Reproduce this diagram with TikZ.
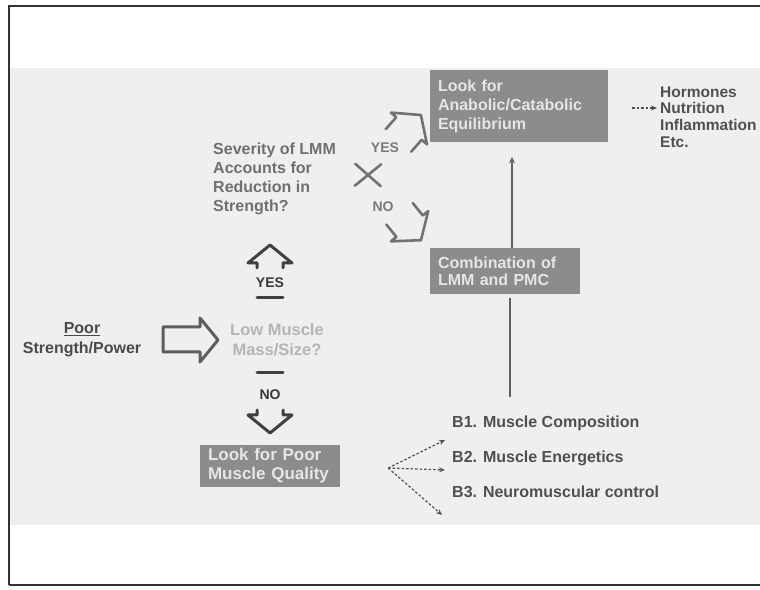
\documentclass[tikz,border=0pt]{standalone}
\usepackage{fontspec}
\setmainfont{Liberation Sans}
\usetikzlibrary{arrows.meta}
\definecolor{bandgray}{HTML}{EFEFEF}
\definecolor{framecol}{HTML}{333333}
\definecolor{boxgray}{HTML}{8C8C8C}
\definecolor{boxtext}{HTML}{E6E6E6}
\definecolor{sevcol}{HTML}{707070}
\definecolor{lowcol}{HTML}{B5B5B5}
\definecolor{poorcol}{HTML}{4A4A4A}
\definecolor{ynv}{HTML}{383838}
\definecolor{ynd}{HTML}{7A7A7A}
\definecolor{arrv}{HTML}{404040}
\definecolor{arrd}{HTML}{727272}
\definecolor{arrr}{HTML}{5E5E5E}
\definecolor{btextcol}{HTML}{505050}
\definecolor{vlinecol}{HTML}{606060}
\newcommand{\HollowHead}[7]{%
  \begin{scope}[shift={#1}, rotate=#2]
    \draw[#7] (0,-#4) -- (0,#4);
    \draw[#7] ({#3-18-#6},-#4) -- ({#3-18},-#4) -- ({#3-18},-#5) -- (#3,0) -- ({#3-18},#5) -- ({#3-18},#4) -- ({#3-18-#6},#4);
  \end{scope}}
\begin{document}
\begin{tikzpicture}[x=1pt,y=1pt,
  graybox/.style={fill=boxgray, draw=none, inner xsep=8pt, inner ysep=4pt, align=left, text=boxtext, font=\fontsize{16}{19}\selectfont\bfseries},
  sevtext/.style={inner sep=0pt, align=left, text=sevcol, font=\fontsize{16}{19}\selectfont\bfseries},
  lowtext/.style={inner sep=0pt, align=center, text=lowcol, font=\fontsize{16.5}{20}\selectfont\bfseries},
  poortext/.style={inner sep=0pt, align=center, text=poorcol, font=\fontsize{16}{20}\selectfont\bfseries},
  ynvert/.style={inner sep=0pt, text=ynv, font=\fontsize{14}{16}\selectfont\bfseries},
  yndiag/.style={inner sep=0pt, text=ynd, font=\fontsize{14}{16}\selectfont\bfseries},
  btext/.style={inner sep=0pt, anchor=west, text=btextcol, font=\fontsize{16}{19}\selectfont\bfseries},
  htext/.style={inner sep=0pt, anchor=west, align=left, text=btextcol, font=\fontsize{15.5}{16.7}\selectfont\bfseries},
  hollow/.style={draw=arrv, line width=3pt, line cap=round, line join=round},
  hollowd/.style={draw=arrd, line width=2.6pt, line cap=round, line join=round},
  dasharr/.style={draw=btextcol, line width=1.2pt, dash pattern=on 2.5pt off 2pt, -{Stealth[length=6pt,width=5pt]}},
  vline/.style={draw=vlinecol, line width=1.6pt}
]
\useasboundingbox (0,0) rectangle (760,589);
\fill[white] (0,0) rectangle (760,589);
\fill[bandgray] (10,64) rectangle (760,521);
\draw[framecol, line width=2.5pt] (9,4) -- (9,583) -- (760,583);
\draw[framecol, line width=2.5pt] (9,4) -- (760,4);

% boxes
\node[graybox, minimum width=178pt, minimum height=72pt, text width=162pt] (A) at (519,483) {Look for\\Anabolic/Catabolic\\Equilibrium};
\node[graybox, minimum width=150pt, minimum height=46pt, text width=134pt, font=\fontsize{16}{17}\selectfont\bfseries] (C) at (505,318) {Combination of\\LMM and PMC};
\node[graybox, minimum width=140pt, minimum height=42pt, text width=124pt, font=\fontsize{17}{19}\selectfont\bfseries] (Q) at (270,123) {Look for Poor\\Muscle Quality};

% texts
\node[htext] (H) at (660,472) {Hormones\\Nutrition\\Inflammation\\Etc.};
\node[sevtext, anchor=west] (S) at (213,410) {Severity of LMM\\Accounts for\\Reduction in\\Strength?};
\node[lowtext] (L) at (277,249) {Low Muscle\\Mass/Size?};
\node[poortext] (P) at (82,249) {\underline{Poor}\\Strength/Power};
\node[ynvert] (yes1) at (270,306) {YES};
\node[ynvert] (no1) at (270,194) {NO};
\node[yndiag] (yes2) at (385,441) {YES};
\node[yndiag] (no2) at (383,382) {NO};
\node[btext] (B1) at (452,166) {B1. Muscle Composition};
\node[btext] (B2) at (452,131) {B2. Muscle Energetics};
\node[btext] (B3) at (452,97) {B3. Neuromuscular control};

% hollow block arrows
\draw[draw=arrr, line width=3pt, line join=round] (163,262) -- (200,262) -- (200,271) -- (218,249) -- (200,227) -- (200,237) -- (163,237) -- cycle;
\HollowHead{(270,291)}{90}{53}{13}{22}{5}{hollow}
\HollowHead{(270,216)}{-90}{60}{13}{22}{5}{hollow}
\HollowHead{(368,414)}{48.6}{80}{17}{24}{16}{hollowd}
\HollowHead{(368,414)}{-50.9}{84}{17}{24}{16}{hollowd}

% vertical connectors
\coordinate (xv) at (512,0);
\coordinate (xw) at (510,0);
\coordinate (cend) at (510,192);
\draw[vline, -{Stealth[length=6pt,width=6pt]}] (C.north -| xv) -- ([yshift=-15pt]A.south -| xv);
\draw[vline] ([yshift=-4pt]C.south -| xw) -- (cend);

% dashed arrows
\draw[dasharr] ([shift={(24pt,-2pt)}]A.east) -- ([shift={(-3pt,9pt)}]H.west);
\coordinate (bsrc) at ([shift={(48pt,-2pt)}]Q.east);
\draw[dasharr] (bsrc) -- ([shift={(-7pt,-17pt)}]B1.west);
\draw[dasharr] (bsrc) -- ([shift={(-7pt,-12pt)}]B2.west);
\draw[dasharr] (bsrc) -- ([shift={(-10pt,-23pt)}]B3.west);
\end{tikzpicture}
\end{document}
